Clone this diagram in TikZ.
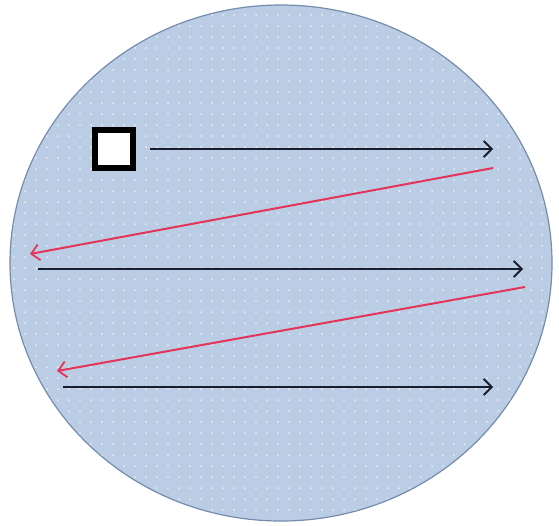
\documentclass[tikz,border=0pt]{standalone}
\usepackage{tikz}
\usetikzlibrary{arrows.meta,positioning}
\definecolor{disc}{RGB}{186,205,229}
\definecolor{discedge}{RGB}{118,140,172}
\definecolor{redpath}{RGB}{228,52,88}
\definecolor{blackpath}{RGB}{25,30,45}

\begin{document}
\begin{tikzpicture}[x=1pt,y=-1pt,>={Straight Barb[length=8pt,width=16pt,line width=1.8pt]},
  fwd/.style={->,draw=blackpath,line width=1.8pt},
  back/.style={->,draw=redpath,line width=2pt}]
  \useasboundingbox (0,0) rectangle (559,525);
  % disc with dotted fill
  \fill[disc] (281,263) ellipse [x radius=271,y radius=258];
  \begin{scope}
    \clip (281,263) ellipse [x radius=271,y radius=258];
    \foreach \i in {0,...,51}
      \foreach \j in {0,...,48}
        \fill[white,opacity=0.65] (\i*11+3,\j*11+4) circle (1pt);
  \end{scope}
  \draw[discedge,line width=1.2pt] (281,263) ellipse [x radius=271,y radius=258];
  % start square and path ends
  \node[draw=black,fill=white,line width=5.5pt,minimum size=38pt,inner sep=0pt] (start) at (114,149) {};
  \coordinate (a1) at (493,149);
  \coordinate (b0) at (493,168);
  \coordinate (b1) at (30,254);
  \coordinate (c0) at (38,269);
  \coordinate (c1) at (523,269);
  \coordinate (d0) at (525,287);
  \coordinate (d1) at (57,371);
  \coordinate (e0) at (63,387);
  \coordinate (e1) at (493,387);
  \draw[fwd] ([xshift=14pt]start.east) -- (a1);
  \draw[back] (b0) -- (b1);
  \draw[fwd] (c0) -- (c1);
  \draw[back] (d0) -- (d1);
  \draw[fwd] (e0) -- (e1);
\end{tikzpicture}
\end{document}
